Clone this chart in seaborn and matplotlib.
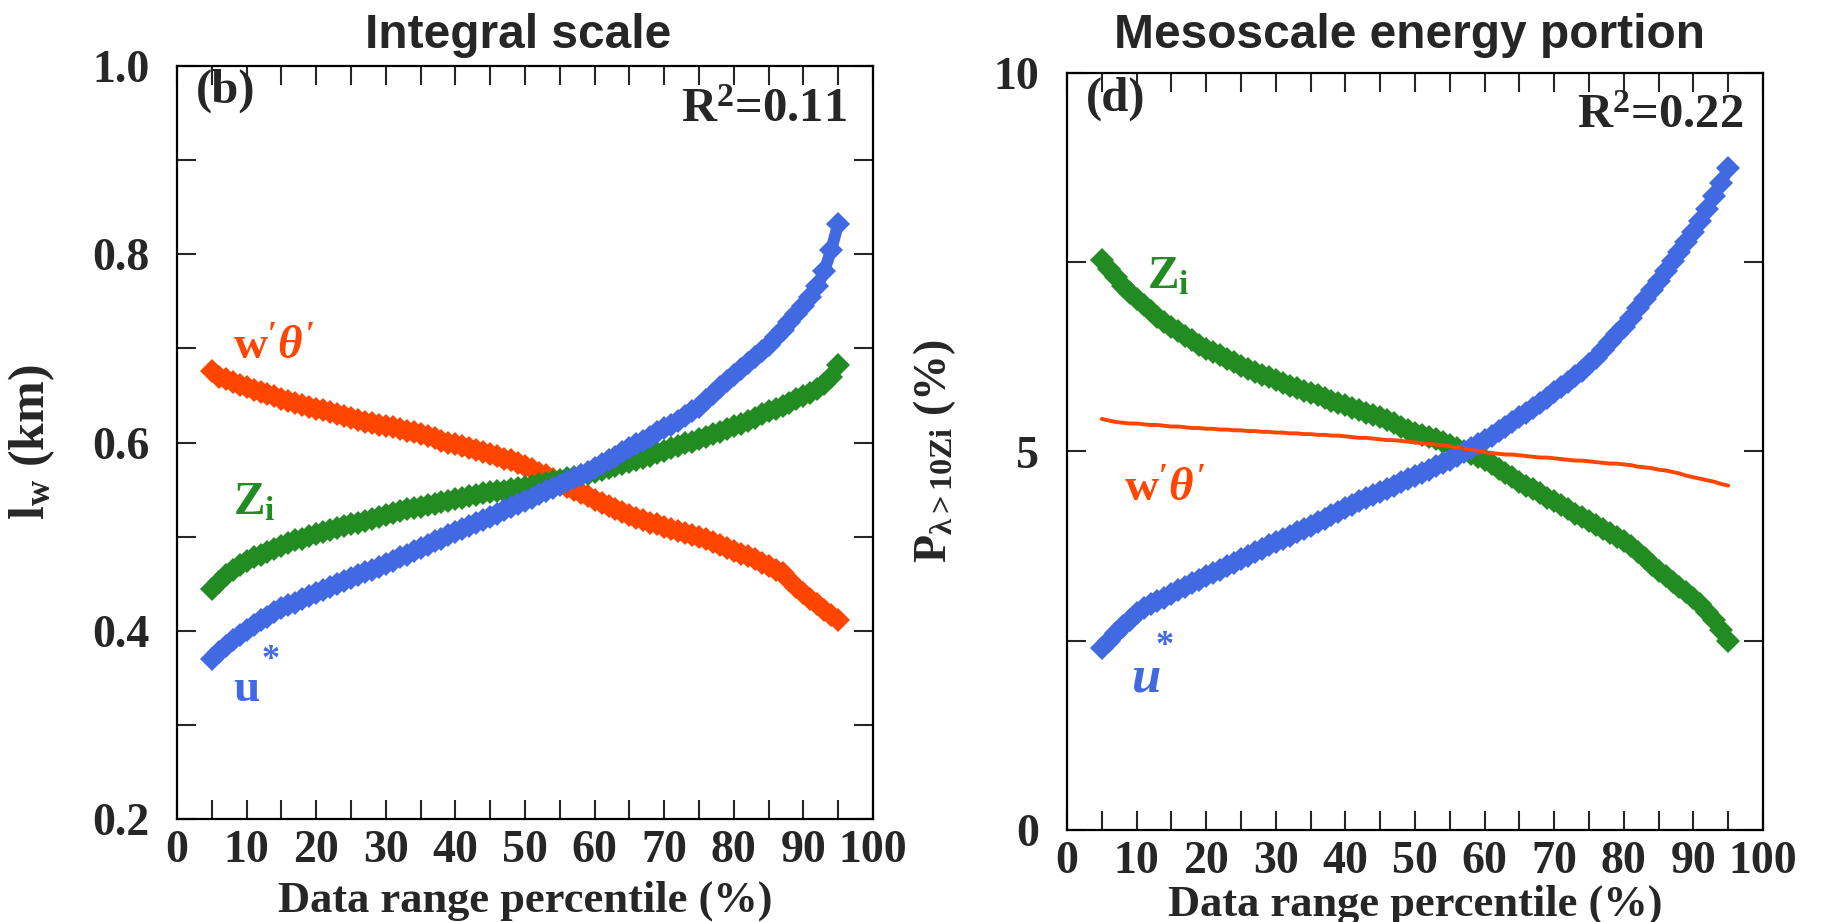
import numpy as np
import pandas as pd
import matplotlib
matplotlib.use("Agg")
import matplotlib.pyplot as plt
from matplotlib.ticker import FixedLocator, FuncFormatter
import seaborn as sns

# ---------------- data ----------------
percentile = list(range(5, 96))  # data range percentile (%)

# panel (b) integral scale l_w (km)
lw_wtheta = [0.676, 0.670, 0.667, 0.664, 0.661, 0.659,
             0.656, 0.654, 0.651, 0.649, 0.646,
             0.644, 0.642, 0.640, 0.638, 0.636,
             0.634, 0.632, 0.630, 0.628, 0.626,
             0.624, 0.622, 0.621, 0.619, 0.617,
             0.616, 0.614, 0.612, 0.611, 0.609,
             0.607, 0.605, 0.602, 0.600, 0.598,
             0.596, 0.594, 0.592, 0.590, 0.588,
             0.586, 0.583, 0.581, 0.578, 0.575,
             0.572, 0.568, 0.565, 0.561, 0.557,
             0.553, 0.550, 0.546, 0.543, 0.539,
             0.536, 0.533, 0.529, 0.526, 0.523,
             0.520, 0.518, 0.515, 0.513, 0.510,
             0.508, 0.506, 0.504, 0.502, 0.500,
             0.497, 0.494, 0.491, 0.488, 0.485,
             0.482, 0.479, 0.476, 0.472, 0.469,
             0.465, 0.461, 0.454, 0.447, 0.440,
             0.434, 0.428, 0.422, 0.417, 0.411]
lw_ustar = [0.370, 0.377, 0.384, 0.390, 0.396, 0.401,
            0.406, 0.411, 0.415, 0.420, 0.424,
            0.427, 0.430, 0.434, 0.437, 0.440,
            0.443, 0.446, 0.450, 0.453, 0.456,
            0.459, 0.462, 0.465, 0.468, 0.471,
            0.474, 0.478, 0.481, 0.485, 0.488,
            0.491, 0.495, 0.498, 0.502, 0.505,
            0.508, 0.511, 0.515, 0.518, 0.521,
            0.524, 0.528, 0.531, 0.535, 0.538,
            0.541, 0.545, 0.548, 0.552, 0.555,
            0.559, 0.562, 0.566, 0.569, 0.573,
            0.577, 0.581, 0.585, 0.590, 0.594,
            0.598, 0.602, 0.606, 0.611, 0.615,
            0.619, 0.623, 0.628, 0.633, 0.638,
            0.645, 0.652, 0.659, 0.665, 0.672,
            0.678, 0.684, 0.691, 0.697, 0.704,
            0.712, 0.720, 0.728, 0.737, 0.745,
            0.755, 0.766, 0.782, 0.805, 0.832]
lw_zi = [0.444, 0.452, 0.459, 0.465, 0.470, 0.474,
         0.478, 0.481, 0.484, 0.487, 0.490,
         0.493, 0.496, 0.498, 0.501, 0.503,
         0.505, 0.507, 0.509, 0.511, 0.513,
         0.515, 0.517, 0.519, 0.521, 0.523,
         0.525, 0.527, 0.529, 0.530, 0.532,
         0.534, 0.535, 0.537, 0.538, 0.540,
         0.541, 0.543, 0.544, 0.546, 0.547,
         0.548, 0.549, 0.551, 0.552, 0.553,
         0.554, 0.556, 0.557, 0.559, 0.560,
         0.562, 0.563, 0.565, 0.567, 0.569,
         0.571, 0.573, 0.575, 0.577, 0.579,
         0.581, 0.584, 0.586, 0.589, 0.591,
         0.594, 0.596, 0.599, 0.601, 0.604,
         0.606, 0.609, 0.611, 0.614, 0.617,
         0.620, 0.623, 0.626, 0.630, 0.633,
         0.636, 0.639, 0.642, 0.646, 0.649,
         0.653, 0.657, 0.662, 0.670, 0.682]

# panel (d) mesoscale energy portion P (%)
p_zi = [7.53, 7.41, 7.30, 7.19, 7.10, 7.01,
        6.93, 6.85, 6.78, 6.71, 6.65,
        6.59, 6.53, 6.47, 6.41, 6.36,
        6.31, 6.27, 6.22, 6.18, 6.13,
        6.09, 6.05, 6.01, 5.98, 5.94,
        5.91, 5.87, 5.84, 5.80, 5.77,
        5.74, 5.71, 5.67, 5.64, 5.61,
        5.58, 5.55, 5.51, 5.48, 5.45,
        5.41, 5.37, 5.33, 5.29, 5.25,
        5.22, 5.19, 5.16, 5.12, 5.09,
        5.05, 5.01, 4.97, 4.93, 4.89,
        4.83, 4.77, 4.71, 4.66, 4.60,
        4.55, 4.50, 4.45, 4.39, 4.34,
        4.29, 4.24, 4.18, 4.13, 4.08,
        4.03, 3.98, 3.92, 3.87, 3.82,
        3.75, 3.67, 3.59, 3.50, 3.42,
        3.35, 3.28, 3.21, 3.14, 3.07,
        2.98, 2.88, 2.77, 2.64, 2.50]
p_ustar = [2.41, 2.50, 2.60, 2.69, 2.78, 2.87,
           2.93, 2.98, 3.03, 3.07, 3.12,
           3.17, 3.21, 3.26, 3.30, 3.35,
           3.40, 3.44, 3.49, 3.53, 3.58,
           3.62, 3.67, 3.71, 3.76, 3.80,
           3.84, 3.89, 3.93, 3.98, 4.02,
           4.07, 4.11, 4.16, 4.20, 4.25,
           4.29, 4.34, 4.38, 4.43, 4.47,
           4.51, 4.55, 4.60, 4.64, 4.68,
           4.72, 4.76, 4.81, 4.85, 4.89,
           4.94, 4.99, 5.04, 5.10, 5.15,
           5.21, 5.27, 5.33, 5.39, 5.45,
           5.51, 5.58, 5.64, 5.71, 5.78,
           5.85, 5.92, 6.00, 6.07, 6.15,
           6.24, 6.34, 6.44, 6.55, 6.65,
           6.77, 6.89, 7.01, 7.13, 7.25,
           7.38, 7.51, 7.64, 7.77, 7.90,
           8.05, 8.21, 8.38, 8.55, 8.74]
p_wtheta = [5.43, 5.41, 5.39, 5.38, 5.37, 5.37,
            5.36, 5.35, 5.35, 5.34, 5.33,
            5.33, 5.32, 5.31, 5.31, 5.30,
            5.30, 5.29, 5.29, 5.28, 5.28,
            5.27, 5.27, 5.26, 5.26, 5.25,
            5.25, 5.24, 5.24, 5.23, 5.23,
            5.22, 5.22, 5.21, 5.21, 5.20,
            5.19, 5.18, 5.18, 5.17, 5.16,
            5.15, 5.15, 5.14, 5.13, 5.12,
            5.11, 5.10, 5.09, 5.08, 5.07,
            5.05, 5.04, 5.02, 5.01, 4.99,
            4.98, 4.97, 4.96, 4.96, 4.95,
            4.94, 4.93, 4.92, 4.92, 4.91,
            4.90, 4.89, 4.88, 4.88, 4.87,
            4.86, 4.85, 4.84, 4.84, 4.83,
            4.82, 4.80, 4.79, 4.78, 4.76,
            4.75, 4.73, 4.71, 4.68, 4.66,
            4.64, 4.62, 4.60, 4.57, 4.55]

x_ticks = [0, 10, 20, 30, 40, 50, 60, 70, 80, 90, 100]
titles = ["Integral scale", "Mesoscale energy portion"]
panel_tags = ["(b)", "(d)"]
r2_texts = [r"R$^\mathrm{2}$=0.11", r"R$^\mathrm{2}$=0.22"]

# ---------------- style ----------------
sns.set_style("ticks")
plt.rcParams["font.family"] = ["Liberation Serif", "DejaVu Serif"]
plt.rcParams["font.weight"] = "bold"
plt.rcParams["mathtext.fontset"] = "custom"
plt.rcParams["mathtext.rm"] = "Liberation Serif:bold"
plt.rcParams["mathtext.bf"] = "Liberation Serif:bold"
plt.rcParams["mathtext.it"] = "Liberation Serif:italic"
plt.rcParams["mathtext.default"] = "rm"

C_OR = "#ff4500"
C_BL = "#4169e1"
C_GR = "#228b22"

W, H = 1826, 922
fig = plt.figure(figsize=(W / 100, H / 100), dpi=100)
fig.patch.set_facecolor("white")

def px_axes(l, t, r, b):
    return fig.add_axes([l / W, 1 - b / H, (r - l) / W, (b - t) / H])

axL = px_axes(177, 66, 873, 819)
axR = px_axes(1067, 73, 1763, 830)

thick = dict(lw=8.5, marker="D", markersize=12, markeredgewidth=0)

dfL = pd.DataFrame({"pct": percentile, "wt": lw_wtheta, "us": lw_ustar, "zi": lw_zi})
sns.lineplot(data=dfL, x="pct", y="wt", ax=axL, color=C_OR, **thick)
sns.lineplot(data=dfL, x="pct", y="zi", ax=axL, color=C_GR, **thick)
sns.lineplot(data=dfL, x="pct", y="us", ax=axL, color=C_BL, **thick)

dfR = pd.DataFrame({"pct": percentile, "wt": p_wtheta, "us": p_ustar, "zi": p_zi})
sns.lineplot(data=dfR, x="pct", y="zi", ax=axR, color=C_GR, **thick)
sns.lineplot(data=dfR, x="pct", y="us", ax=axR, color=C_BL, **thick)
sns.lineplot(data=dfR, x="pct", y="wt", ax=axR, color=C_OR, lw=2.8)

TICK_FS = 33
for ax in (axL, axR):
    ax.set_xlim(0, 100)
    ax.xaxis.set_major_locator(FixedLocator(x_ticks))
    ax.xaxis.set_minor_locator(FixedLocator([5 + 10 * i for i in range(10)]))
    ax.tick_params(axis="both", which="both", direction="in", top=True, right=True,
                   length=14, width=1.5, labelsize=TICK_FS)
    ax.tick_params(axis="x", pad=8)
    ax.tick_params(axis="y", pad=20)
    for s in ax.spines.values():
        s.set_linewidth(1.6)
        s.set_color("black")

axL.set_ylim(0.2, 1.0)
axL.yaxis.set_major_locator(FixedLocator([0.2, 0.4, 0.6, 0.8, 1.0]))
axL.yaxis.set_minor_locator(FixedLocator([0.3, 0.5, 0.7, 0.9]))
axL.yaxis.set_major_formatter(FuncFormatter(lambda v, p: f"{v:.1f}"))

axR.set_ylim(0, 10)
axR.yaxis.set_major_locator(FixedLocator([0, 5, 10]))
axR.yaxis.set_minor_locator(FixedLocator([2.5, 7.5]))
axR.yaxis.set_major_formatter(FuncFormatter(lambda v, p: f"{v:.0f}"))

for ax in (axL, axR):
    for lab in ax.get_xticklabels() + ax.get_yticklabels():
        lab.set_fontweight("bold")

axL.set_xlabel("Data range percentile (%)", fontsize=32, fontweight="bold")
axR.set_xlabel("Data range percentile (%)", fontsize=32, fontweight="bold")
axL.xaxis.set_label_coords(0.5, -0.082)
axR.xaxis.set_label_coords(0.5, -0.072)

axL.set_ylabel(r"$\mathrm{l_w}$ (km)", fontsize=36, fontweight="bold")
axR.set_ylabel(r"$\mathrm{P_{\lambda>10Zi}}$ (%)", fontsize=33, fontweight="bold")
axL.yaxis.set_label_coords(-0.172, 0.5)
axR.yaxis.set_label_coords(-0.156, 0.5)

# titles
fig.text(518 / W, 1 - 36 / H, titles[0], ha="center", va="center", fontsize=34.5,
         fontweight="bold", family="Liberation Sans")
fig.text(1409 / W, 1 - 36 / H, titles[1], ha="center", va="center", fontsize=34.5,
         fontweight="bold", family="Liberation Sans")

# panel tags and R2
for ax, tag, r2, ty, rx, ry in zip((axL, axR), panel_tags, r2_texts,
                                   (0.967, 0.966), (0.963, 0.972), (0.941, 0.943)):
    ax.text(0.027, ty, tag, transform=ax.transAxes, ha="left", va="center",
            fontsize=35, fontweight="bold")
    ax.text(rx, ry, r2, transform=ax.transAxes, ha="right", va="center",
            fontsize=35, fontweight="bold")

# curve labels
LFS = 34
wt_label = r"w$'\mathit{\theta}'$"
axL.text(8, 0.70, wt_label, color=C_OR, fontsize=LFS, ha="left", va="center")
axL.text(8, 0.535, r"Z$_\mathrm{i}$", color=C_GR, fontsize=LFS, ha="left", va="center")
axL.text(10.0, 0.337, "u", color=C_BL, fontsize=LFS, ha="center", va="center")
axL.text(13.5, 0.368, "*", color=C_BL, fontsize=26, ha="center", va="center")

axR.text(11.5, 7.3, r"Z$_\mathrm{i}$", color=C_GR, fontsize=LFS, ha="left", va="center")
axR.text(8.2, 4.48, wt_label, color=C_OR, fontsize=LFS, ha="left", va="center")
axR.text(11.3, 2.0, "u", color=C_BL, fontsize=38, ha="center", va="center", style="italic")
axR.text(14.0, 2.42, "*", color=C_BL, fontsize=26, ha="center", va="center")

fig.savefig("out.png", dpi=100, facecolor="white")
